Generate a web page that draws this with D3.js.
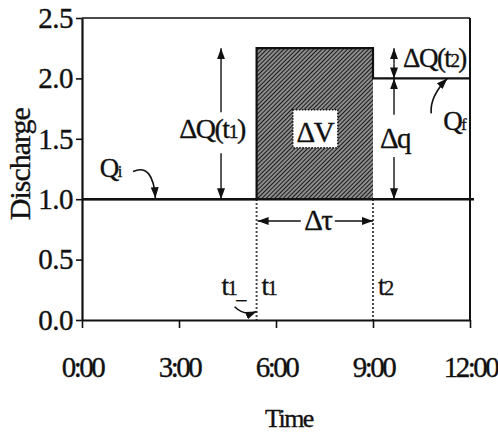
<!DOCTYPE html>
<head>
    <meta charset="utf-8">
    <title>Discharge step</title>
    <script src="https://d3js.org/d3.v7.min.js"></script>
    <style>
        body { margin: 0; background: #fff; }
        text { font-family: "Liberation Serif", "Times New Roman", serif; fill: #111; stroke: #111; stroke-width: 0.35px; }
    </style>
</head>
<body>
    <script>
        // data (time in hours, discharge)
        const xTicks = [0, 3, 6, 9, 12]
        const xTickLabels = ["0:00", "3:00", "6:00", "9:00", "12:00"]
        const yTicks = [0, 0.5, 1.0, 1.5, 2.0, 2.5]
        const stepTimes = [0, 5.4, 5.4, 9, 9, 12]
        const stepQ = [1.0, 1.0, 2.25, 2.25, 2.0, 2.0]
        const baseQ = 1.0
        const t1 = 5.4
        const t2 = 9
        const peakQ = 2.25
        const finalQ = 2.0

        const width = 498
        const height = 432
        const m = {left: 82, right: 28, top: 18, bottom: 112}

        const svg = d3.select("body").append("svg")
            .attr("width", width)
            .attr("height", height)

        const x = d3.scaleLinear().domain([0, 12]).range([m.left, width - m.right])
        const y = d3.scaleLinear().domain([0, 2.5]).range([height - m.bottom, m.top])

        const defs = svg.append("defs")
        defs.append("pattern")
            .attr("id", "hatch")
            .attr("patternUnits", "userSpaceOnUse")
            .attr("width", 3).attr("height", 3)
            .attr("patternTransform", "rotate(45)")
          .call(p => p.append("rect").attr("width", 3).attr("height", 3).attr("fill", "#fff"))
          .append("line")
            .attr("x1", 1.5).attr("y1", 0).attr("x2", 1.5).attr("y2", 3)
            .attr("stroke", "#1a1a1a").attr("stroke-width", 2)

        defs.append("marker")
            .attr("id", "arrow")
            .attr("markerUnits", "userSpaceOnUse")
            .attr("markerWidth", 12).attr("markerHeight", 10)
            .attr("refX", 11).attr("refY", 4)
            .attr("orient", "auto-start-reverse")
          .append("path")
            .attr("d", "M0,0 L11,4 L0,8 Z")
            .attr("fill", "#111")

        // frame
        const frame = svg.append("g").attr("stroke", "#111").attr("fill", "none")
        frame.append("line").attr("x1", x(0)).attr("x2", x(12)).attr("y1", y(2.5)).attr("y2", y(2.5)).attr("stroke-width", 1.6)
        frame.append("line").attr("x1", x(12)).attr("x2", x(12)).attr("y1", y(2.5)).attr("y2", y(0)).attr("stroke-width", 2)

        // hatched volume
        svg.append("rect")
            .attr("x", x(t1)).attr("y", y(peakQ))
            .attr("width", x(t2) - x(t1)).attr("height", y(baseQ) - y(peakQ))
            .attr("fill", "url(#hatch)")

        // baseline Qi across the plot
        svg.append("line")
            .attr("x1", x(0)).attr("x2", x(12) + 4)
            .attr("y1", y(baseQ)).attr("y2", y(baseQ))
            .attr("stroke", "#111").attr("stroke-width", 2.6)

        const line = d3.line().x((d, i) => x(stepTimes[i])).y((d, i) => y(stepQ[i]))
        svg.append("path")
            .attr("d", line(stepTimes))
            .attr("fill", "none").attr("stroke", "#111").attr("stroke-width", 2.2)

        // dotted time markers
        svg.selectAll(".tmark").data([t1, t2]).join("line")
            .attr("x1", d => x(d)).attr("x2", d => x(d))
            .attr("y1", y(baseQ)).attr("y2", y(0))
            .attr("stroke", "#111").attr("stroke-width", 2)
            .attr("stroke-dasharray", "1.5,2.5")

        // axes
        const yAxis = svg.append("g")
            .attr("transform", `translate(${x(0)},0)`)
            .call(d3.axisLeft(y).tickValues(yTicks).tickFormat(d3.format(".1f")).tickSize(6).tickSizeOuter(0).tickPadding(3))
        const xAxis = svg.append("g")
            .attr("transform", `translate(0,${y(0)})`)
            .call(d3.axisBottom(x).tickValues(xTicks).tickFormat((d, i) => xTickLabels[i]).tickSize(8).tickSizeOuter(0).tickPadding(28))
        svg.selectAll(".domain").attr("stroke", "#111").attr("stroke-width", 2.2)
        svg.selectAll(".tick line").attr("stroke", "#111").attr("stroke-width", 1.6)
        svg.selectAll(".tick text")
            .style("font-family", "Liberation Serif").style("font-size", "29px")
            .attr("fill", "#111")
        yAxis.selectAll(".tick text").style("letter-spacing", "-0.5px")
        xAxis.selectAll(".tick text").style("letter-spacing", "-2.5px")

        svg.append("text")
            .attr("transform", `translate(30,${y(1.29)}) rotate(-90)`)
            .attr("text-anchor", "middle")
            .style("font-size", "30px").style("letter-spacing", "-1px")
            .text("Discharge")
        svg.append("text")
            .attr("x", x(6.4)).attr("y", 427)
            .attr("text-anchor", "middle")
            .style("font-size", "26px").style("letter-spacing", "-1.5px")
            .text("Time")

        // annotations
        const ann = svg.append("g")
        const arrowSeg = (x1, y1, x2, y2) => ann.append("line")
            .attr("x1", x1).attr("y1", y1).attr("x2", x2).attr("y2", y2)
            .attr("stroke", "#111").attr("stroke-width", 1.4)
            .attr("marker-end", "url(#arrow)")
        const label = (px, py, parts, size, anchor) => {
            const t = ann.append("text").attr("x", px).attr("y", py)
                .attr("text-anchor", anchor || "middle")
                .style("font-size", size + "px").style("letter-spacing", "-1.5px")
            parts.forEach(p => {
                const s = t.append("tspan").text(p[0])
                if (p[1]) s.style("font-size", (size * p[1]) + "px")
                if (p[2]) s.attr("dy", p[2])
            })
            return t
        }

        // dQ(t1)
        const xa = x(4.3)
        arrowSeg(xa, y(1.72), xa, y(peakQ))
        arrowSeg(xa, y(1.38), xa, y(baseQ))
        label(xa - 9, y(1.5) - 1, [["ΔQ(t"], ["1", 0.7], [")"]], 28)

        // dQ(t2) and dq
        const xb = x(9.65)
        arrowSeg(xb, (y(peakQ) + y(finalQ)) / 2, xb, y(peakQ))
        arrowSeg(xb, (y(peakQ) + y(finalQ)) / 2, xb, y(finalQ))
        arrowSeg(xb, y(1.7), xb, y(finalQ))
        arrowSeg(xb, y(1.35), xb, y(baseQ))
        label(xb + 9, y(2.12) + 3, [["ΔQ(t"], ["2", 0.7], [")"]], 27, "start")
        label(xb + 1, y(1.51) + 10, [["Δq"]], 29)

        // dV box
        const cx = x((t1 + t2) / 2)
        ann.append("rect")
            .attr("x", cx - 22).attr("y", y(1.74)).attr("width", 45).attr("height", 38)
            .attr("fill", "#fff").attr("stroke", "#111").attr("stroke-width", 1.5)
            .attr("stroke-dasharray", "1.5,1.5")
        label(cx, y(1.47), [["ΔV"]], 29)

        // d tau
        arrowSeg(cx - 14, y(0.82), x(t1) + 1, y(0.82))
        arrowSeg(cx + 20, y(0.82), x(t2), y(0.82))
        label(cx + 3, y(0.82) + 9, [["Δτ"]], 29)

        // t labels
        label(x(t1) + 5, y(0.21), [["t"], ["1", 0.75]], 27, "start")
        label(x(t2) + 5, y(0.21), [["t"], ["2", 0.75]], 27, "start")
        label(x(t1) - 35, y(0.21), [["t"], ["1", 0.75], ["_", 0.75, 3]], 27, "start")
        ann.append("path")
            .attr("d", `M${x(t1) - 22},${y(0.11)} Q${x(t1) - 12},${y(0.03)} ${x(t1)},${y(0.07)}`)
            .attr("fill", "none").attr("stroke", "#111").attr("stroke-width", 1.6)
            .attr("marker-end", "url(#arrow)")

        // Qi
        label(x(0.55), y(1.18), [["Q"], ["i", 0.6]], 27, "start")
        ann.append("path")
            .attr("d", `M${x(1.58)},${y(1.23)} Q${x(2.2)},${y(1.3)} ${x(2.27)},${y(baseQ) - 1}`)
            .attr("fill", "none").attr("stroke", "#111").attr("stroke-width", 1.6)
            .attr("marker-end", "url(#arrow)")

        // Qf
        label(x(11.17), y(1.57), [["Q"], ["f", 0.6]], 27, "start")
        ann.append("path")
            .attr("d", `M${x(10.8)},${y(1.71)} Q${x(10.75)},${y(1.85)} ${x(11.3)},${y(finalQ) - 0.02}`)
            .attr("fill", "none").attr("stroke", "#111").attr("stroke-width", 1.6)
            .attr("marker-end", "url(#arrow)")
    </script>
</body>
